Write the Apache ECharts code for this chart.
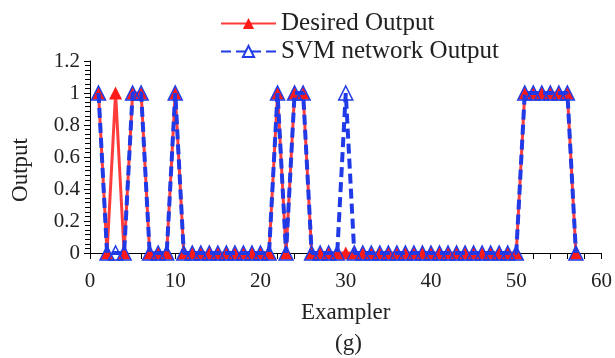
<!DOCTYPE html>
<html>
<head>
<meta charset="utf-8">
<script src="https://cdn.jsdelivr.net/npm/echarts@6/dist/echarts.min.js"></script>
<style>html,body{margin:0;padding:0;background:#fff}#c{width:615px;height:358px}</style>
</head>
<body>
<div id="c"></div>
<script>
// Exampler index (x)
const exemplars = [1,2,3,4,5,6,7,8,9,10,11,12,13,14,15,16,17,18,19,20,21,22,23,24,25,26,27,28,29,30,31,32,33,34,35,36,37,38,39,40,41,42,43,44,45,46,47,48,49,50,51,52,53,54,55,56,57];
// Desired Output
const desired =   [1,0,1,0,1,1,0,0,0,1,0,0,0,0,0,0,0,0,0,0,0,1,0,1,1,0,0,0,0,0,0,0,0,0,0,0,0,0,0,0,0,0,0,0,0,0,0,0,0,0,1,1,1,1,1,1,0];
// SVM network Output
const svmOutput = [1,0,0,0,1,1,0,0,0,1,0,0,0,0,0,0,0,0,0,0,0,1,0,1,1,0,0,0,0,1,0,0,0,0,0,0,0,0,0,0,0,0,0,0,0,0,0,0,0,0,1,1,1,1,1,1,0];
const seriesNames = ['Desired Output', 'SVM network Output'];
const xTitle = 'Exampler';
const yTitle = 'Output';
const caption = '(g)';

const FONT = 'Liberation Serif';
const RED = '#ff1a1a';
const BLUE = '#1f3ae6';

const chart = echarts.init(document.getElementById('c'), null, {renderer: 'canvas'});
chart.setOption({
  animation: false,
  backgroundColor: '#fff',
  textStyle: {fontFamily: FONT, color: '#222'},
  grid: {left: 90, right: 11, top: 61, bottom: 105, containLabel: false},
  legend: {
    orient: 'vertical',
    left: 215,
    top: 6,
    itemWidth: 55,
    itemHeight: 14,
    itemGap: 3,
    itemTextGap: 7,
    textStyle: {fontFamily: FONT, fontSize: 25, color: '#222'},
    data: seriesNames
  },
  xAxis: {
    type: 'value',
    min: 0, max: 60, interval: 10,
    name: xTitle,
    nameLocation: 'middle',
    nameGap: 48,
    nameTextStyle: {fontFamily: FONT, fontSize: 23, color: '#222'},
    axisLine: {lineStyle: {color: '#000', width: 1}},
    axisTick: {show: true, length: 6, lineStyle: {color: '#000'}},
    minorTick: {show: true, splitNumber: 5, length: 6, lineStyle: {color: '#000'}},
    splitLine: {show: false},
    axisLabel: {fontFamily: FONT, fontSize: 21, color: '#222', margin: 18}
  },
  yAxis: {
    type: 'value',
    min: 0, max: 1.2, interval: 0.2,
    axisLine: {show: true, lineStyle: {color: '#000', width: 1}},
    axisTick: {show: true, length: 6, lineStyle: {color: '#000'}},
    minorTick: {show: true, splitNumber: 7, length: 5, lineStyle: {color: '#000'}},
    splitLine: {show: false},
    axisLabel: {fontFamily: FONT, fontSize: 21, color: '#222', margin: 10,
      formatter: v => String(Math.round(v * 10) / 10)}
  },
  graphic: [
    {type: 'text', left: 9, top: 138, rotation: Math.PI / 2,
      style: {text: yTitle, font: '23px "Liberation Serif"', fill: '#222'}},
    {type: 'text', left: 335, top: 332,
      style: {text: caption, font: '23px "Liberation Serif"', fill: '#222'}}
  ],
  series: [
    {
      name: seriesNames[0],
      type: 'line',
      data: exemplars.map((x, i) => [x, desired[i]]),
      symbol: 'triangle',
      symbolSize: 13,
      itemStyle: {color: RED},
      lineStyle: {color: RED, width: 3, opacity: 0.85},
      z: 2
    },
    {
      name: seriesNames[1],
      type: 'line',
      data: exemplars.map((x, i) => [x, svmOutput[i]]),
      symbol: 'triangle',
      symbolSize: 14,
      itemStyle: {color: 'rgba(255,255,255,0)', borderColor: BLUE, borderWidth: 1.5},
      lineStyle: {color: BLUE, width: 4, type: [10, 5]},
      z: 3
    }
  ]
});
</script>
</body>
</html>
